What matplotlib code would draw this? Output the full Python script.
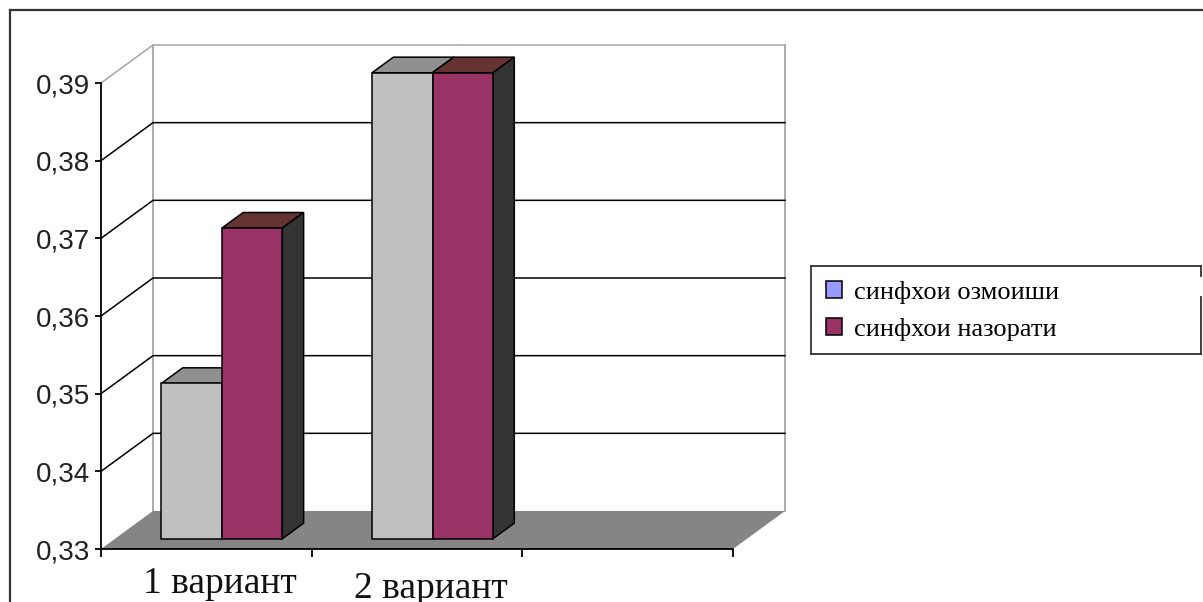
import matplotlib.pyplot as plt
from matplotlib.lines import Line2D
from matplotlib.patches import Patch, Polygon

categories = ['1 вариант', '2 вариант']
series_names = ['синфхои озмоиши', 'синфхои назорати']
values_test = [0.35, 0.39]
values_control = [0.37, 0.39]
y_ticks = [0.33, 0.34, 0.35, 0.36, 0.37, 0.38, 0.39]
y_labels = ['0,33', '0,34', '0,35', '0,36', '0,37', '0,38', '0,39']

W, H = 1203, 602
# depth of the fake 3d box, in data units
DX = 52 / 210.67
DY = 38 / 77.67 * 0.01
BAR_D0 = 0.27
BAR_D1 = 0.68
BAR_W = 0.287


def p(x, y, d=0.0):
    return (x + d * DX, y + d * DY)


def fig_line(x0, y0, x1, y1, color='#333333', lw=1.6):
    # coordinates in picture pixels, y going down
    fig.add_artist(Line2D([x0 / W, x1 / W], [1 - y0 / H, 1 - y1 / H], color=color, lw=lw))


fig = plt.figure(figsize=(W / 100, H / 100), dpi=100, facecolor='white')
ax = fig.add_axes([101 / W, 1 - 549 / H, 632 / W, 466 / H])
ax.set_xlim(0, 3)
ax.set_ylim(0.33, 0.39)
ax.patch.set_visible(False)
ax.spines['top'].set_visible(False)
ax.spines['right'].set_visible(False)
ax.spines['left'].set_linewidth(1.3)
ax.spines['bottom'].set_linewidth(1.3)

# outer frame, runs off the picture right and bottom
fig_line(10, H, 10, 10)
fig_line(10, 10, W, 10)

# back wall and grid
grey = '#a6a6a6'
ax.plot(*zip(p(0, 0.33, 1), p(0, 0.39, 1)), color=grey, lw=1.3, clip_on=False, zorder=1)
ax.plot(*zip(p(3, 0.33, 1), p(3, 0.39, 1)), color=grey, lw=1.3, clip_on=False, zorder=1)
for t in y_ticks[1:]:
    col = grey if t == y_ticks[-1] else 'black'
    line = [p(0, t, 0), p(0, t, 1), p(3, t, 1)]
    ax.plot(*zip(*line), color=col, lw=1.1, clip_on=False, zorder=1)

# floor
floor = [p(0, 0.33, 0), p(0, 0.33, 1), p(3, 0.33, 1), p(3, 0.33, 0)]
ax.add_patch(Polygon(floor, closed=True, fc='#858585', ec='none', clip_on=False, zorder=2))

# bars
z = 3
for i in range(len(categories)):
    x0 = i + 0.507 - BAR_W
    for j, (vals, front, top) in enumerate([(values_test, '#c0c0c0', '#909090'),
                                            (values_control, '#993366', '#663333')]):
        x = x0 + j * BAR_W
        v = vals[i]
        fx, fy0 = p(x, 0.33, BAR_D0)
        _, fy1 = p(x, v, BAR_D0)
        ax.bar(fx, fy1 - fy0, BAR_W, bottom=fy0, align='edge', color=front, ec='black',
               lw=1.1, clip_on=False, zorder=z + 1)
        top_pts = [p(x, v, BAR_D0), p(x, v, BAR_D1), p(x + BAR_W, v, BAR_D1), p(x + BAR_W, v, BAR_D0)]
        ax.add_patch(Polygon(top_pts, closed=True, fc=top, ec='black', lw=1.1, clip_on=False, zorder=z))
        side = [p(x + BAR_W, 0.33, BAR_D0), p(x + BAR_W, 0.33, BAR_D1),
                p(x + BAR_W, v, BAR_D1), p(x + BAR_W, v, BAR_D0)]
        ax.add_patch(Polygon(side, closed=True, fc='#333333', ec='black', lw=1.1, clip_on=False, zorder=z))
        z += 2

ax.set_yticks(y_ticks)
ax.set_yticklabels(y_labels, family='Liberation Sans', fontsize=20, color='#222222')
ax.set_xticks([0, 1, 2, 3])
ax.set_xticklabels([])
ax.tick_params(axis='y', length=4, width=1.3, pad=4)
ax.tick_params(axis='x', length=6, width=1.3)

# category labels sit a bit off the slot centres in the reference
for i, (name, dy) in enumerate(zip(categories, [-25.2, -28.8])):
    ax.annotate(name, (i + 0.5, 0.33), xytext=(10, dy), textcoords='offset points',
                ha='center', va='center', family='Liberation Serif', fontsize=27, color='#111111',
                annotation_clip=False)

handles = [Patch(fc='#9999ff', ec='black', lw=1.1), Patch(fc='#993366', ec='black', lw=1.1)]
leg = fig.legend(handles, series_names, loc='upper left',
                 bbox_to_anchor=(811 / W, 1 - 266 / H), borderaxespad=0,
                 prop={'family': 'Liberation Serif', 'size': 19},
                 frameon=False,
                 handlelength=0.62, handleheight=0.62, handletextpad=0.45,
                 borderpad=0.55, labelspacing=0.55)

# legend box by hand: it is wider than its text and the right edge has a gap
fig_line(811, 266, 1201, 266, lw=1.3)
fig_line(811, 354, 1201, 354, lw=1.3)
fig_line(811, 266, 811, 354, lw=1.3)
fig_line(1201, 266, 1201, 276, lw=1.3)
fig_line(1201, 297, 1201, 354, lw=1.3)

fig.savefig('out.png', dpi=100)
